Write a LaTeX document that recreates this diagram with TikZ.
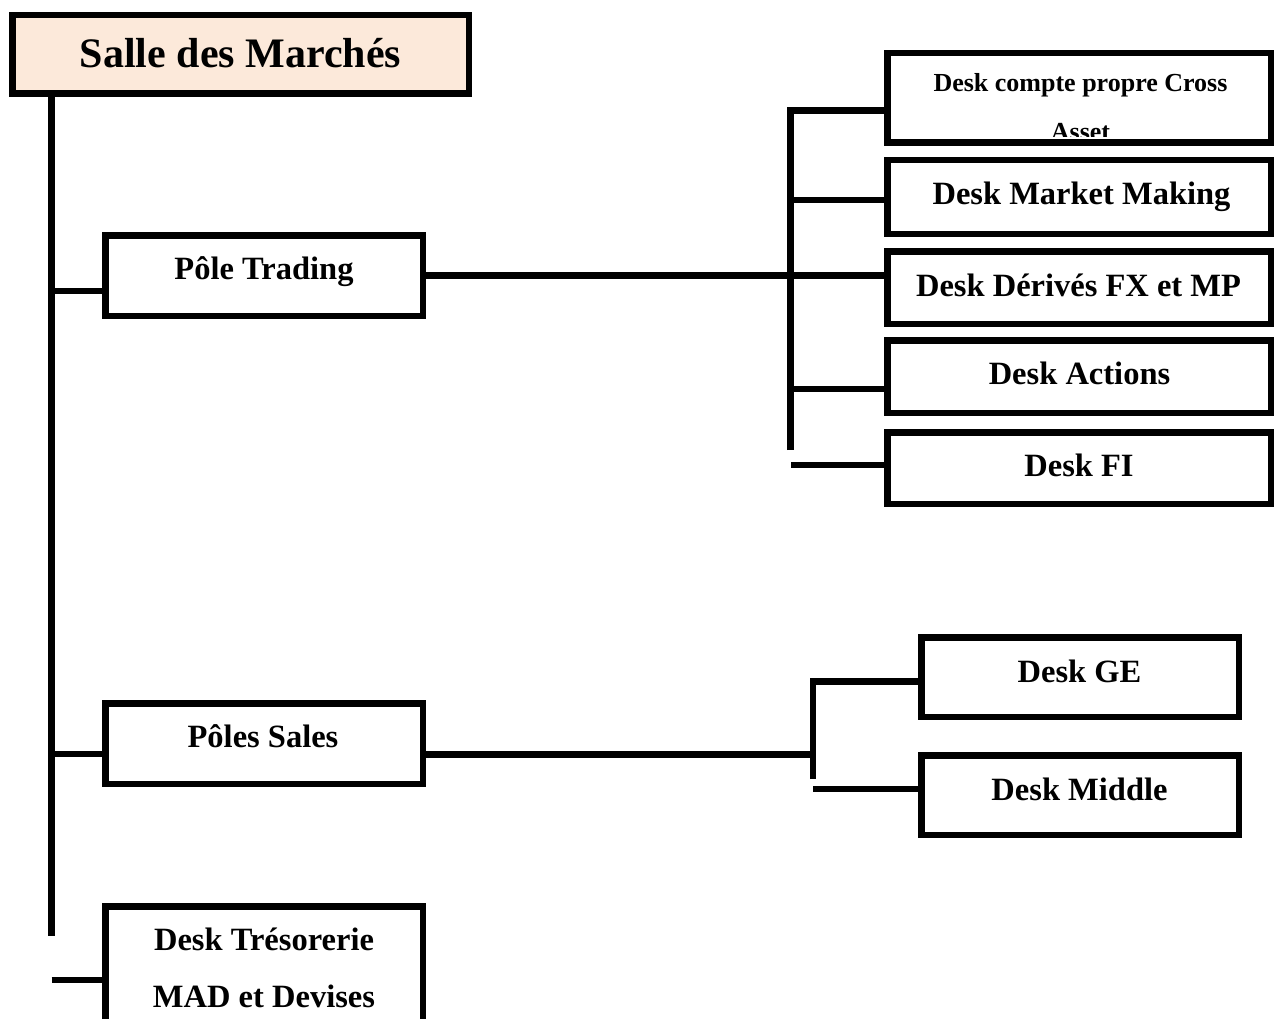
\documentclass[tikz,border=0pt]{standalone}
\usepackage{fontspec}
\setmainfont{Liberation Serif}
\definecolor{peach}{RGB}{252,233,218}
\begin{document}
\begin{tikzpicture}[x=1pt,y=-1pt,
  box/.style={draw=black,line width=6.5pt,fill=white,inner sep=0pt,outer sep=0pt},
  txt/.style={anchor=base,inner sep=0pt,outer sep=0pt,font=\bfseries\fontsize{32.5}{39}\selectfont},
  conn/.style={draw=black,line width=6.5pt,line join=miter}
]
\clip (0,0) rectangle (1274,1019);
\fill[white] (0,0) rectangle (1274,1019);

% left column boxes
\node[box,fill=peach,minimum width=456.5pt,minimum height=78.5pt] (salle) at (240.5,54.5) {};
\node[txt,font=\bfseries\fontsize{42}{50}\selectfont] (salleT) at (240.5,68) {Salle des Marchés};

\node[box,minimum width=317.5pt,minimum height=80.5pt] (trading) at (264,275.5) {};
\node[txt] (tradingT) at (264,279) {Pôle Trading};

\node[box,minimum width=317.5pt,minimum height=80.5pt] (sales) at (264,743.5) {};
\node[txt] (salesT) at (263,747) {Pôles Sales};

\node[box,minimum width=317.5pt,minimum height=130.5pt] (treso) at (264,971.5) {};
\node[txt] (tresoT1) at (264,950) {Desk Trésorerie};
\node[txt] (tresoT2) at (264,1007) {MAD et Devises};

% trading desks
\node[box,minimum width=383.5pt,minimum height=89.5pt] (compte) at (1079,98) {};
\begin{scope}
  \clip (890.25,56.25) rectangle (1267.75,136.5);
  \node[txt,font=\bfseries\fontsize{26}{31}\selectfont] (compteT1) at (1080.5,92) {Desk compte propre Cross};
  \node[txt,font=\bfseries\fontsize{26}{31}\selectfont] (compteT2) at (1080.5,141) {Asset};
\end{scope}

\node[box,minimum width=383.5pt,minimum height=73.5pt] (market) at (1079,197) {};
\node[txt] (marketT) at (1081.5,205) {Desk Market Making};

\node[box,minimum width=383.5pt,minimum height=72.5pt] (derives) at (1079,287.5) {};
\node[txt] (derivesT) at (1078.5,296) {Desk Dérivés FX et MP};

\node[box,minimum width=383.5pt,minimum height=72.5pt] (actions) at (1079,376.5) {};
\node[txt] (actionsT) at (1079.5,384) {Desk Actions};

\node[box,minimum width=383.5pt,minimum height=71.5pt] (fi) at (1079,468) {};
\node[txt] (fiT) at (1079,476) {Desk FI};

% sales desks
\node[box,minimum width=317.5pt,minimum height=79.5pt] (ge) at (1080,677) {};
\node[txt] (geT) at (1079.5,682) {Desk GE};

\node[box,minimum width=317.5pt,minimum height=79.5pt] (middle) at (1080,795) {};
\node[txt] (middleT) at (1079.5,800) {Desk Middle};

% trunk
\coordinate (tBot) at (51.5,936);
\draw[conn] (salle.south -| tBot) -- (tBot);
\coordinate (jT) at (51.5,291);
\draw[conn] (jT) -- (jT -| trading.west);
\coordinate (jS0) at (51.5,754);
\draw[conn] (jS0) -- (jS0 -| sales.west);
\coordinate (jTr) at (51.5,980);
\draw[conn] (jTr) -- (jTr -| treso.west);

% trading branch
\draw[conn] (trading.east) -- (trading.east -| derives.west);
\coordinate (vTop) at (790.5,110.5);
\coordinate (vBot) at (790.5,450);
\draw[conn] (vBot) -- (vTop) -- (vTop -| compte.west);
\coordinate (jM) at (790.5,200);
\draw[conn] (jM) -- (jM -| market.west);
\coordinate (jA) at (790.5,389);
\draw[conn] (jA) -- (jA -| actions.west);
\coordinate (jF) at (791,465);
\draw[conn] (jF) -- (jF -| fi.west);

% sales branch
\coordinate (jS) at (813,754.5);
\draw[conn] (jS -| sales.east) -- (jS);
\coordinate (sTop) at (813,681.5);
\coordinate (sBot) at (813,779);
\draw[conn] (sBot) -- (sTop) -- (sTop -| ge.west);
\coordinate (jMid) at (813,789);
\draw[conn] (jMid) -- (jMid -| middle.west);
\end{tikzpicture}
\end{document}
